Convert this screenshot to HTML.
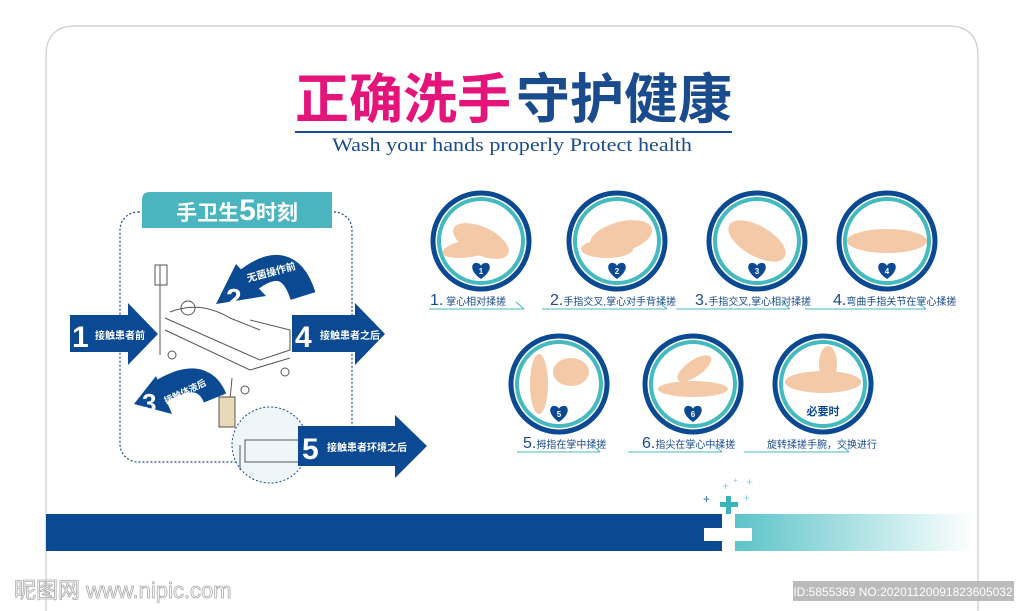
<!DOCTYPE html>
<html><head><meta charset="utf-8"><style>
html,body{margin:0;width:1024px;height:611px;overflow:hidden;background:#fff;font-family:"Liberation Sans","Noto Sans CJK SC",sans-serif}
svg{position:absolute;left:0;top:0;display:block}
</style></head><body>
<svg width="1024" height="611" viewBox="0 0 1024 611" xmlns="http://www.w3.org/2000/svg" font-family="Liberation Sans, Noto Sans CJK SC, sans-serif">
<defs>
<linearGradient id="g" x1="0" x2="1"><stop offset="0" stop-color="#5cc4c8"/><stop offset="1" stop-color="#5cc4c8" stop-opacity="0"/></linearGradient>
<g id="ring"><circle r="48" fill="#fff" stroke="#0b4a93" stroke-width="5"/><circle r="42" fill="none" stroke="#45b9c0" stroke-width="4"/></g>
<g id="heart"><path d="M0 8 C-12 0 -10 -9 -4 -8 C-2 -8 0 -6 0 -5 C0 -6 2 -8 4 -8 C10 -9 12 0 0 8Z" fill="#0b4a93"/></g>
</defs>
<path d="M46 611 V56 Q46 26 76 26 H948 Q978 26 978 56 V611" fill="#fff" stroke="#ccc" stroke-width="1.2"/>
<text x="295" y="118" font-size="54" font-weight="bold" fill="#e4147a" font-family="Noto Sans CJK SC, sans-serif">正确洗手</text>
<text x="516" y="118" font-size="54" font-weight="bold" fill="#1a4b8c" font-family="Noto Sans CJK SC, sans-serif">守护健康</text>
<line x1="295" y1="132" x2="732" y2="132" stroke="#1a4b8c" stroke-width="2"/>
<text x="512" y="151" font-size="19" fill="#1a4b8c" text-anchor="middle" font-family="Liberation Serif, serif" textLength="360" lengthAdjust="spacingAndGlyphs">Wash your hands properly Protect health</text>

<!-- left panel -->
<rect x="120" y="212" width="232" height="250" rx="18" fill="none" stroke="#1a4b8c" stroke-width="1.2" stroke-dasharray="2 2"/>
<path d="M150 192 H332 V228 H142 V200 Q142 192 150 192Z" fill="#4ab5bf"/>
<text x="237" y="220" font-size="21" font-weight="bold" fill="#fff" text-anchor="middle">手卫生<tspan font-size="30">5</tspan>时刻</text>
<!-- bed sketch -->
<g fill="none" stroke="#555" stroke-width="1">
<line x1="160" y1="265" x2="160" y2="355"/><rect x="155" y="265" width="12" height="20"/>
<path d="M165 318 L260 360 L290 350 L290 330 L250 320 M165 330 L250 370 L290 358"/>
<path d="M170 312 Q200 300 230 318 L260 330"/><circle cx="188" cy="308" r="7"/>
<circle cx="172" cy="355" r="4"/><circle cx="245" cy="390" r="4"/><circle cx="285" cy="372" r="4"/>
<path d="M232 378 L230 400"/>
</g>
<rect x="219" y="397" width="16" height="30" fill="#e8d9b8" stroke="#555"/>
<circle cx="270" cy="445" r="38" fill="#eef6fa" stroke="#1a4b8c" stroke-dasharray="2 2"/>
<path d="M245 440 H300 V462 H245Z M240 445 V470" fill="none" stroke="#555"/>
<!-- arrows -->
<g fill="#0b4a93">
<path d="M70 315 H128 V303 L158 334 L128 365 V352 H70Z"/>
<path d="M292 315 H355 V303 L385 334 L355 365 V352 H292Z"/>
<path d="M298 426 H395 V415 L427 446 L395 478 V466 H298Z"/>
</g>
<path d="M303 296 Q288 248 246 282" fill="none" stroke="#0b4a93" stroke-width="26"/>
<path d="M216 304 L236 264 L266 296Z" fill="#0b4a93"/>
<path d="M215 398 Q202 366 160 392" fill="none" stroke="#0b4a93" stroke-width="24"/>
<path d="M134 404 L156 376 L172 414Z" fill="#0b4a93"/>
<g fill="#fff" font-weight="bold">
<text x="72" y="347" font-size="30">1</text><text x="95" y="339" font-size="10">接触患者前</text>
<text x="295" y="347" font-size="30">4</text><text x="320" y="339" font-size="10">接触患者之后</text>
<text x="302" y="459" font-size="30">5</text><text x="327" y="451" font-size="10">接触患者环境之后</text>
<text x="226" y="308" font-size="28">2</text><text x="248" y="282" font-size="10" transform="rotate(-15 248 282)">无菌操作前</text>
<text x="142" y="412" font-size="26">3</text><text x="166" y="404" font-size="9" transform="rotate(-25 166 404)">接触体液后</text>
</g>

<!-- circles -->
<g fill="#f3c9a8">
<g transform="translate(481,241)"><use href="#ring"/><ellipse cx="0" cy="0" rx="30" ry="14" transform="rotate(25)"/><ellipse cx="-10" cy="5" rx="30" ry="9" transform="rotate(-10)"/><use href="#heart" y="30"/></g>
<g transform="translate(617,241)"><use href="#ring"/><ellipse cx="5" cy="-3" rx="32" ry="15" transform="rotate(-15)"/><ellipse cx="-10" cy="8" rx="26" ry="9"/><use href="#heart" y="30"/></g>
<g transform="translate(757,241)"><use href="#ring"/><ellipse cx="0" cy="0" rx="32" ry="15" transform="rotate(30)"/><use href="#heart" y="30"/></g>
<g transform="translate(887,241)"><use href="#ring"/><ellipse cx="0" cy="0" rx="40" ry="12"/><use href="#heart" y="30"/></g>
<g transform="translate(559,384)"><use href="#ring"/><ellipse cx="-20" cy="0" rx="9" ry="30"/><ellipse cx="12" cy="-12" rx="18" ry="14"/><use href="#heart" y="30"/></g>
<g transform="translate(693,384)"><use href="#ring"/><ellipse cx="0" cy="5" rx="35" ry="8"/><ellipse cx="10" cy="-12" rx="20" ry="8" transform="rotate(-35)"/><use href="#heart" y="30"/></g>
<g transform="translate(823,384)"><use href="#ring"/><ellipse cx="0" cy="-2" rx="38" ry="11"/><ellipse cx="5" cy="-20" rx="9" ry="18"/></g>
</g>
<g fill="#fff" font-size="8" font-weight="bold" text-anchor="middle">
<text x="481" y="274">1</text><text x="617" y="274">2</text><text x="757" y="274">3</text><text x="887" y="274">4</text><text x="559" y="417">5</text><text x="693" y="417">6</text></g>
<text x="823" y="415" font-size="11" font-weight="bold" fill="#0b4a93" text-anchor="middle">必要时</text>

<!-- labels -->
<g fill="#1a4b8c" font-size="10">
<text x="430" y="305"><tspan font-size="16">1.</tspan> 掌心相对揉搓</text>
<text x="550" y="305"><tspan font-size="16">2.</tspan>手指交叉,掌心对手背揉搓</text>
<text x="695" y="305"><tspan font-size="16">3.</tspan>手指交叉,掌心相对揉搓</text>
<text x="833" y="305"><tspan font-size="16">4.</tspan>弯曲手指关节在掌心揉搓</text>
<text x="523" y="448"><tspan font-size="16">5.</tspan>拇指在掌中揉搓</text>
<text x="642" y="448"><tspan font-size="16">6.</tspan>指尖在掌心中揉搓</text>
<text x="767" y="448">旋转揉搓手腕，交换进行</text>
</g>
<g fill="none" stroke="#45b9c0" stroke-width="1">
<path d="M429 309 H524 M516 302 L524 309"/><path d="M542 309 H667 M659 302 L667 309"/>
<path d="M676 309 H790 M782 302 L790 309"/><path d="M805 309 H926 M918 302 L926 309"/>
<path d="M517 452 H600 M592 445 L600 452"/><path d="M628 452 H722 M714 445 L722 452"/>
<path d="M744 452 H849 M841 445 L849 452"/>
</g>

<!-- bottom bar -->
<rect x="46" y="514" width="676" height="37" fill="#0b4a93"/>
<rect x="735" y="514" width="240" height="37" fill="url(#g)"/>
<rect x="704" y="528" width="48" height="13" fill="#fff"/>
<g fill="#3bb3b8"><rect x="720" y="502" width="18" height="5"/><rect x="726" y="496" width="5" height="18"/></g>
<g fill="#8fd0e8" font-size="12"><text x="743" y="502">+</text><text x="746" y="486">+</text><text x="722" y="490">+</text><text x="733" y="483" font-size="8">+</text></g>
<text x="703" y="503" font-size="12" fill="#1a6fb5">+</text>

<rect x="793" y="581" width="221" height="20" fill="#bbb"/>
<text x="903" y="596" font-size="12" fill="#fff" text-anchor="middle">ID:5855369 NO:20201120091823605032</text>
<text x="14" y="598" font-size="22" fill="#fff" stroke="#aaa" stroke-width="0.8">昵图网 www.nipic.com</text>
</svg>
</body></html>
